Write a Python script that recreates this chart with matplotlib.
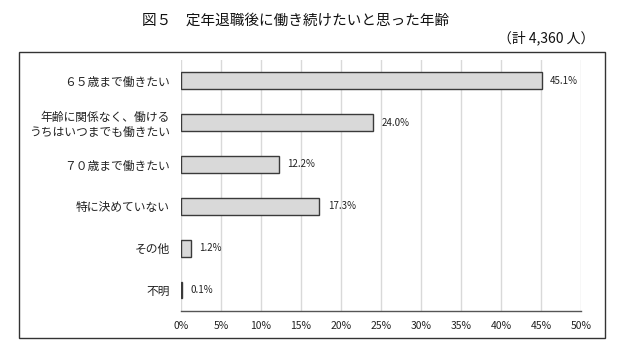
import matplotlib.pyplot as plt
import matplotlib.patches as patches

plt.rcParams['font.family'] = ['Noto Sans CJK JP', 'DejaVu Sans']

# データ
labels = ["６５歳まで働きたい",
          "年齢に関係なく、働ける\nうちはいつまでも働きたい",
          "７０歳まで働きたい",
          "特に決めていない",
          "その他",
          "不明"]
values = [45.1, 24.0, 12.2, 17.3, 1.2, 0.1]
ticks = [0, 5, 10, 15, 20, 25, 30, 35, 40, 45, 50]

fig = plt.figure(figsize=(6.26, 3.52), dpi=100)
ax = fig.add_axes([0.289, 0.1165, 0.639, 0.7135])

y = list(range(len(values)))
ax.barh(y, values, height=0.4, color='#d9d9d9', edgecolor='#3a3a3a', linewidth=1.0, zorder=3)

for i, v in enumerate(values):
    ax.annotate(f"{v:.1f}%", (v, i), xytext=(6, 0), textcoords='offset points',
                va='center', ha='left', fontsize=7, color='#222222')

ax.set_xlim(0, 50)
ax.set_ylim(5.5, -0.5)
ax.set_xticks(ticks)
ax.set_xticklabels([f"{t}%" for t in ticks], fontsize=7.5, color='#222222')
ax.set_yticks(y)
ax.set_yticklabels(labels, fontsize=8.5, color='#222222', linespacing=1.2)
ax.tick_params(axis='both', length=0, pad=8)
ax.tick_params(axis='x', pad=7)

ax.grid(axis='x', color='#d9d9d9', linewidth=1.0, zorder=0)
for s in ['top', 'right', 'left']:
    ax.spines[s].set_visible(False)
ax.spines['bottom'].set_color('#555555')
ax.spines['bottom'].set_linewidth(1.0)

# 外枠
frame = patches.Rectangle((0.0304, 0.0398), 0.936, 0.8125, transform=fig.transFigure,
                          fill=False, edgecolor='#333333', linewidth=1.0)
fig.add_artist(frame)

fig.text(0.472, 0.942, "図５　定年退職後に働き続けたいと思った年齢", ha='center', va='center',
         fontsize=10.5, color='#111111')
fig.text(0.949, 0.892, "（計 4,360 人）", ha='right', va='center', fontsize=10, color='#111111')

fig.savefig('out.png', dpi=100)
